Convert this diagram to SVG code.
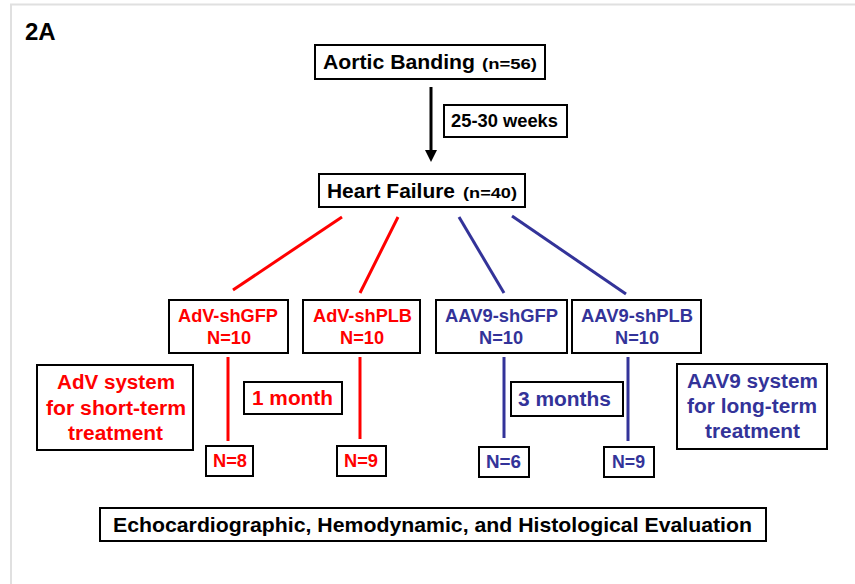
<svg xmlns="http://www.w3.org/2000/svg" width="855" height="584" viewBox="0 0 855 584">
<defs>
<style>
text{font-family:"Liberation Sans",Arial,sans-serif;font-weight:bold}
.box{fill:#fff;stroke:#000;stroke-width:2}
.r{fill:#ff0000}
.b{fill:#333399}
.k{fill:#000}
.lr{stroke:#ff0000;stroke-width:3;fill:none}
.lb{stroke:#333399;stroke-width:3;fill:none}
.f16{font-size:17.5px}
.f19{font-size:19.5px}
.ev{font-family:"Liberation Sans Narrow","Liberation Sans",Arial,sans-serif;font-size:21px}
</style>
</defs>
<rect x="0" y="0" width="855" height="584" fill="#fff"/>
<path d="M11,584 V4.5 H855" fill="none" stroke="#e0e0e0" stroke-width="2"/>
<text x="25" y="40" class="k" style="font-size:24px">2A</text>

<g id="connectors">
<line x1="431" y1="87" x2="431" y2="152" stroke="#000" stroke-width="3"/>
<path d="M425,150 L437,150 L431,162 Z" fill="#000"/>
<line class="lr" x1="342" y1="217" x2="233" y2="290"/>
<line class="lr" x1="398" y1="217" x2="360" y2="293"/>
<line class="lb" x1="459" y1="217" x2="504" y2="293"/>
<line class="lb" x1="512" y1="216" x2="626" y2="294"/>
<line class="lr" x1="228" y1="357" x2="228" y2="441"/>
<line class="lr" x1="360" y1="357" x2="360" y2="439"/>
<line class="lb" x1="504" y1="357" x2="504" y2="438"/>
<line class="lb" x1="628" y1="357" x2="628" y2="441"/>
</g>

<g id="aortic-banding">
<rect class="box" x="315" y="45" width="230" height="34"/>
<text x="323" y="69" class="k" style="font-size:19.5px" textLength="152" lengthAdjust="spacingAndGlyphs">Aortic Banding</text>
<text x="482" y="69" class="k" style="font-size:14.5px" textLength="55" lengthAdjust="spacingAndGlyphs">(n=56)</text>
</g>
<g id="weeks">
<rect class="box" x="444" y="105" width="123" height="32"/>
<text x="451" y="127" class="k f16" textLength="107" lengthAdjust="spacingAndGlyphs">25-30 weeks</text>
</g>
<g id="heart-failure">
<rect class="box" x="319" y="174" width="206" height="33"/>
<text x="327" y="198" class="k" style="font-size:19.5px" textLength="128" lengthAdjust="spacingAndGlyphs">Heart Failure</text>
<text x="463" y="198" class="k" style="font-size:14.5px" textLength="54" lengthAdjust="spacingAndGlyphs">(n=40)</text>
</g>

<g id="adv-shgfp">
<rect class="box" x="169" y="300" width="119" height="53"/>
<text x="178" y="322" class="r f16" textLength="100" lengthAdjust="spacingAndGlyphs">AdV-shGFP</text>
<text x="207" y="344" class="r f16" textLength="44" lengthAdjust="spacingAndGlyphs">N=10</text>
</g>
<g id="adv-shplb">
<rect class="box" x="303" y="300" width="117" height="53"/>
<text x="313" y="322" class="r f16" textLength="99" lengthAdjust="spacingAndGlyphs">AdV-shPLB</text>
<text x="340" y="344" class="r f16" textLength="44" lengthAdjust="spacingAndGlyphs">N=10</text>
</g>
<g id="aav9-shgfp">
<rect class="box" x="436" y="300" width="131" height="53"/>
<text x="445" y="322" class="b f16" textLength="113" lengthAdjust="spacingAndGlyphs">AAV9-shGFP</text>
<text x="479" y="344" class="b f16" textLength="44" lengthAdjust="spacingAndGlyphs">N=10</text>
</g>
<g id="aav9-shplb">
<rect class="box" x="572" y="300" width="129" height="53"/>
<text x="581" y="322" class="b f16" textLength="112" lengthAdjust="spacingAndGlyphs">AAV9-shPLB</text>
<text x="615" y="344" class="b f16" textLength="44" lengthAdjust="spacingAndGlyphs">N=10</text>
</g>

<g id="adv-system">
<rect class="box" x="37" y="365" width="156" height="85"/>
<text x="57" y="389" class="r f19" textLength="118" lengthAdjust="spacingAndGlyphs">AdV system</text>
<text x="46" y="415" class="r f19" textLength="140" lengthAdjust="spacingAndGlyphs">for short-term</text>
<text x="68" y="440" class="r f19" textLength="95" lengthAdjust="spacingAndGlyphs">treatment</text>
</g>
<g id="one-month">
<rect class="box" x="244" y="382" width="98" height="32"/>
<text x="252" y="405" class="r f19" textLength="81" lengthAdjust="spacingAndGlyphs">1 month</text>
</g>
<g id="three-months">
<rect class="box" x="511" y="382" width="112" height="34"/>
<text x="518" y="406" class="b f19" textLength="93" lengthAdjust="spacingAndGlyphs">3 months</text>
</g>
<g id="aav9-system">
<rect class="box" x="677" y="364" width="150" height="85"/>
<text x="687" y="388" class="b f19" textLength="131" lengthAdjust="spacingAndGlyphs">AAV9 system</text>
<text x="687" y="413" class="b f19" textLength="130" lengthAdjust="spacingAndGlyphs">for long-term</text>
<text x="705" y="438" class="b f19" textLength="95" lengthAdjust="spacingAndGlyphs">treatment</text>
</g>

<g id="n8">
<rect class="box" x="206" y="446" width="47" height="30"/>
<text x="213" y="467" class="r f16" textLength="34" lengthAdjust="spacingAndGlyphs">N=8</text>
</g>
<g id="n9-red">
<rect class="box" x="337" y="446" width="49" height="30"/>
<text x="344" y="467" class="r f16" textLength="34" lengthAdjust="spacingAndGlyphs">N=9</text>
</g>
<g id="n6">
<rect class="box" x="479" y="447" width="50" height="30"/>
<text x="486" y="468" class="b f16" textLength="35" lengthAdjust="spacingAndGlyphs">N=6</text>
</g>
<g id="n9-blue">
<rect class="box" x="604" y="447" width="50" height="30"/>
<text x="612" y="468" class="b f16" textLength="33" lengthAdjust="spacingAndGlyphs">N=9</text>
</g>

<g id="evaluation">
<rect class="box" x="100" y="508" width="666" height="33"/>
<text x="113" y="531.5" class="k ev" textLength="639" lengthAdjust="spacingAndGlyphs">Echocardiographic, Hemodynamic, and Histological Evaluation</text>
</g>
</svg>
